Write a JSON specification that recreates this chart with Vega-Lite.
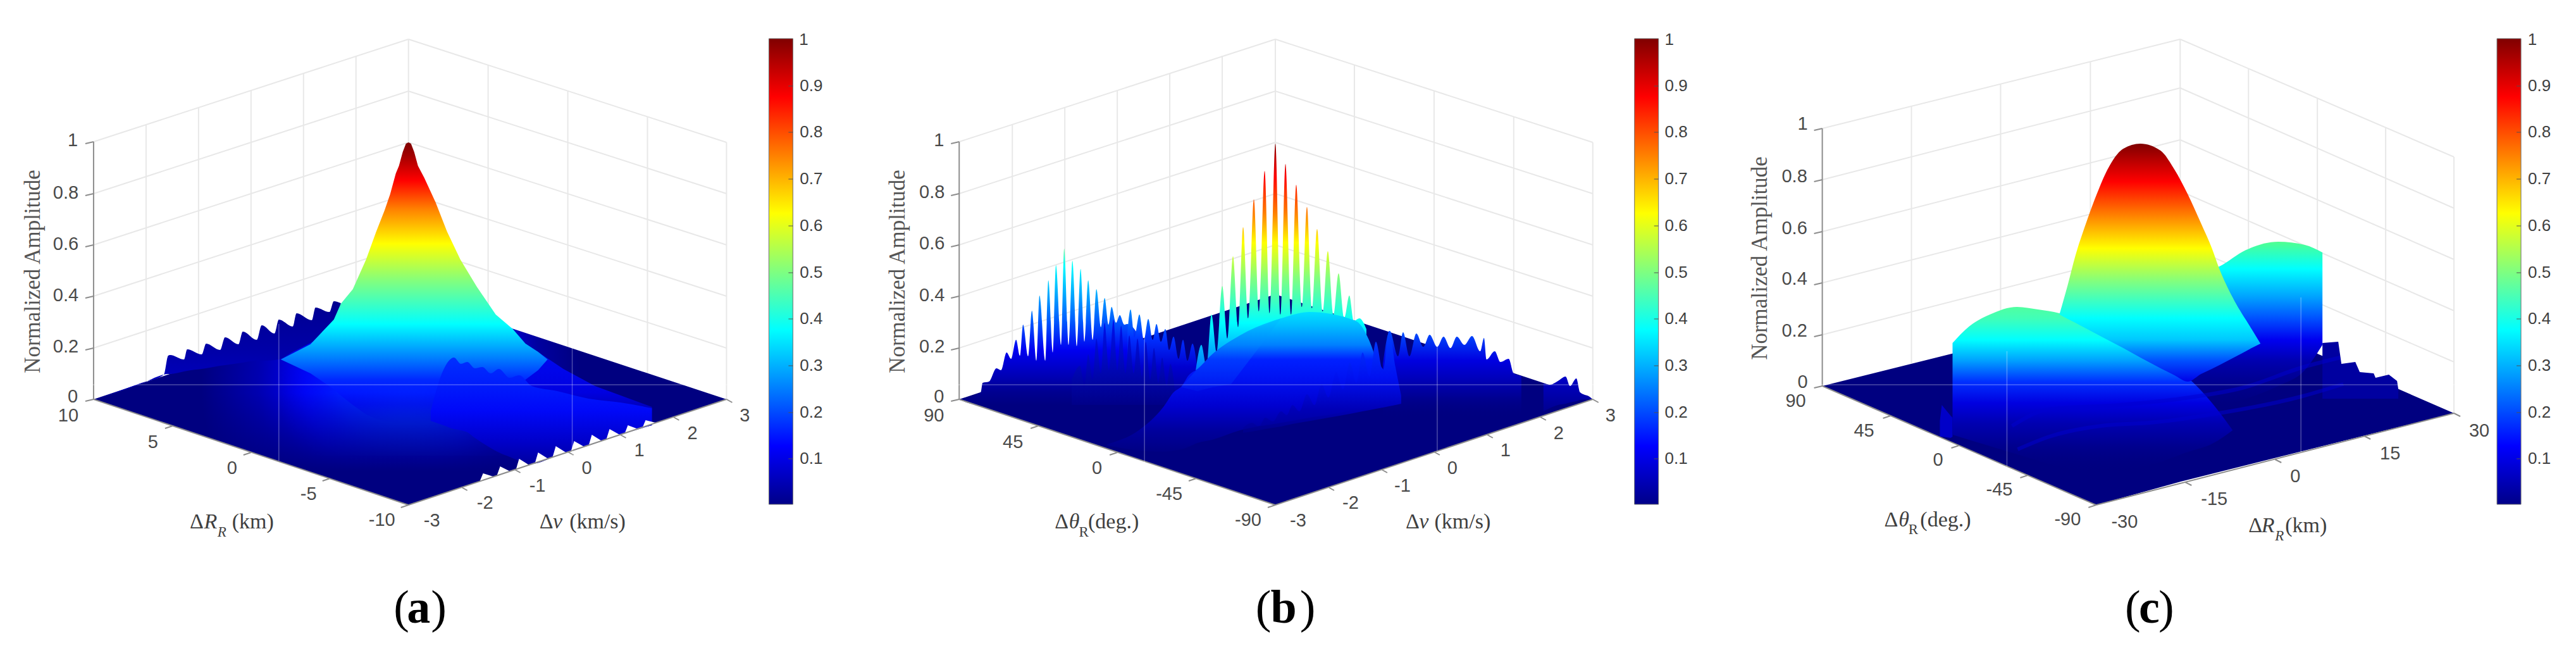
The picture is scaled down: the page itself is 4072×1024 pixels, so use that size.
{
"$schema":"https://vega.github.io/schema/vega-lite/v6.json",
"autosize":{"type":"fit","contains":"padding"},
"width":4072,"height":1024,"padding":0,"background":"white",
"config":{"view":{"stroke":null}},
"datasets":{
"grid":[
{"x":147,"y":550,"x2":645,"y2":387},{"x":147,"y":468,"x2":645,"y2":306},{"x":147,"y":387,"x2":645,"y2":225},{"x":147,"y":306,"x2":645,"y2":144},{"x":147,"y":224,"x2":645,"y2":62},
{"x":645,"y":387,"x2":1148,"y2":550},{"x":645,"y":306,"x2":1148,"y2":468},{"x":645,"y":225,"x2":1148,"y2":387},{"x":645,"y":144,"x2":1148,"y2":306},{"x":645,"y":62,"x2":1148,"y2":225},
{"x":645,"y":62,"x2":645,"y2":468},
{"x":230,"y":197,"x2":230,"y2":604},{"x":313,"y":170,"x2":313,"y2":577},{"x":396,"y":143,"x2":396,"y2":550},{"x":479,"y":116,"x2":479,"y2":523},{"x":562,"y":88,"x2":562,"y2":495},
{"x":771,"y":103,"x2":771,"y2":509},{"x":897,"y":143,"x2":897,"y2":549},{"x":1023,"y":184,"x2":1023,"y2":590},{"x":1148,"y":225,"x2":1148,"y2":631},
{"x":1516,"y":550,"x2":2016,"y2":387},{"x":1516,"y":468,"x2":2016,"y2":306},{"x":1516,"y":387,"x2":2016,"y2":225},{"x":1516,"y":306,"x2":2016,"y2":144},{"x":1516,"y":224,"x2":2016,"y2":62},
{"x":2016,"y":387,"x2":2518,"y2":550},{"x":2016,"y":306,"x2":2518,"y2":468},{"x":2016,"y":225,"x2":2518,"y2":387},{"x":2016,"y":144,"x2":2518,"y2":306},{"x":2016,"y":62,"x2":2518,"y2":225},
{"x":2016,"y":62,"x2":2016,"y2":468},
{"x":1600,"y":197,"x2":1600,"y2":604},{"x":1683,"y":170,"x2":1683,"y2":577},{"x":1766,"y":143,"x2":1766,"y2":550},{"x":1849,"y":116,"x2":1849,"y2":523},{"x":1932,"y":88,"x2":1932,"y2":495},
{"x":2141,"y":103,"x2":2141,"y2":509},{"x":2267,"y":143,"x2":2267,"y2":549},{"x":2393,"y":184,"x2":2393,"y2":590},{"x":2518,"y":225,"x2":2518,"y2":631},
{"x":2881,"y":529,"x2":3447,"y2":384},{"x":2881,"y":447,"x2":3447,"y2":302},{"x":2881,"y":366,"x2":3447,"y2":221},{"x":2881,"y":284,"x2":3447,"y2":139},{"x":2881,"y":203,"x2":3447,"y2":62},
{"x":3447,"y":384,"x2":3880,"y2":572},{"x":3447,"y":302,"x2":3880,"y2":491},{"x":3447,"y":221,"x2":3880,"y2":410},{"x":3447,"y":139,"x2":3880,"y2":329},{"x":3447,"y":62,"x2":3880,"y2":248},
{"x":3447,"y":62,"x2":3447,"y2":465},
{"x":3022,"y":168,"x2":3022,"y2":574},{"x":3163,"y":132,"x2":3163,"y2":538},{"x":3305,"y":97,"x2":3305,"y2":501},
{"x":3555,"y":108,"x2":3555,"y2":512},{"x":3664,"y":155,"x2":3664,"y2":559},{"x":3772,"y":202,"x2":3772,"y2":606},{"x":3880,"y":248,"x2":3880,"y2":653}
],
"axes":[
{"x":147,"y":224,"x2":147,"y2":631},{"x":147,"y":224,"x2":134,"y2":227},{"x":147,"y":306,"x2":134,"y2":309},{"x":147,"y":387,"x2":134,"y2":390},{"x":147,"y":468,"x2":134,"y2":471},{"x":147,"y":550,"x2":134,"y2":553},{"x":147,"y":631,"x2":134,"y2":634},
{"x":147,"y":631,"x2":645,"y2":798},{"x":272,"y":673,"x2":260,"y2":677},{"x":396,"y":715,"x2":384,"y2":719},{"x":521,"y":756,"x2":509,"y2":760},{"x":645,"y":798,"x2":633,"y2":802},
{"x":645,"y":798,"x2":1148,"y2":631},{"x":729,"y":770,"x2":738,"y2":775},{"x":813,"y":742,"x2":822,"y2":747},{"x":897,"y":714,"x2":906,"y2":719},{"x":980,"y":687,"x2":989,"y2":692},{"x":1064,"y":659,"x2":1073,"y2":664},{"x":1148,"y":631,"x2":1157,"y2":636},
{"x":1516,"y":224,"x2":1516,"y2":631},{"x":1516,"y":224,"x2":1503,"y2":227},{"x":1516,"y":306,"x2":1503,"y2":309},{"x":1516,"y":387,"x2":1503,"y2":390},{"x":1516,"y":468,"x2":1503,"y2":471},{"x":1516,"y":550,"x2":1503,"y2":553},{"x":1516,"y":631,"x2":1503,"y2":634},
{"x":1516,"y":631,"x2":2016,"y2":798},{"x":1641,"y":673,"x2":1629,"y2":677},{"x":1766,"y":715,"x2":1754,"y2":719},{"x":1891,"y":756,"x2":1879,"y2":760},{"x":2016,"y":798,"x2":2004,"y2":802},
{"x":2016,"y":798,"x2":2518,"y2":631},{"x":2100,"y":770,"x2":2109,"y2":775},{"x":2184,"y":742,"x2":2193,"y2":747},{"x":2267,"y":714,"x2":2276,"y2":719},{"x":2351,"y":687,"x2":2360,"y2":692},{"x":2435,"y":659,"x2":2444,"y2":664},{"x":2518,"y":631,"x2":2527,"y2":636},
{"x":2881,"y":203,"x2":2881,"y2":610},{"x":2881,"y":203,"x2":2868,"y2":206},{"x":2881,"y":284,"x2":2868,"y2":287},{"x":2881,"y":366,"x2":2868,"y2":369},{"x":2881,"y":447,"x2":2868,"y2":450},{"x":2881,"y":529,"x2":2868,"y2":532},{"x":2881,"y":610,"x2":2868,"y2":613},
{"x":2881,"y":610,"x2":3314,"y2":798},{"x":2989,"y":657,"x2":2977,"y2":661},{"x":3097,"y":704,"x2":3085,"y2":708},{"x":3206,"y":751,"x2":3194,"y2":755},{"x":3314,"y":798,"x2":3302,"y2":802},
{"x":3314,"y":798,"x2":3880,"y2":653},{"x":3455,"y":762,"x2":3465,"y2":767},{"x":3597,"y":726,"x2":3607,"y2":731},{"x":3738,"y":689,"x2":3748,"y2":694},{"x":3880,"y":653,"x2":3890,"y2":658}
],
"overlay":[
{"x":0,"y":608,"x2":4072,"y2":608},
{"x":440,"y":512,"x2":440,"y2":728},{"x":904,"y":549,"x2":904,"y2":719},
{"x":1809,"y":530,"x2":1809,"y2":745},{"x":2272,"y":530,"x2":2272,"y2":712},
{"x":3173,"y":555,"x2":3173,"y2":738},{"x":3638,"y":470,"x2":3638,"y2":715}
],
"a_floor":[{"x":147,"y":631,"y2":631},{"x":645,"y":465,"y2":798},{"x":1148,"y":631,"y2":631}],
"a_glow":[{"x":400,"y":550,"y2":720},{"x":500,"y":520,"y2":720},{"x":645,"y":470,"y2":720},{"x":800,"y":517,"y2":720},{"x":900,"y":550,"y2":720}],
"a_front":[{"x":147,"y":631,"y2":631},{"x":180,"y":620,"y2":642},{"x":645,"y":620,"y2":798},{"x":1115,"y":620,"y2":642},{"x":1148,"y":631,"y2":631}],
"a_comb":[{"x":147,"y":632,"y2":632},{"x":223,"y":605,"y2":606},{"x":258,"y":592,"y2":592},{"x":265,"y":562,"y2":591},{"x":268,"y":561,"y2":591},{"x":290,"y":568,"y2":587},{"x":295,"y":552,"y2":586},{"x":318,"y":560,"y2":583},{"x":325,"y":543,"y2":582},{"x":347,"y":553,"y2":578},{"x":355,"y":533,"y2":577},{"x":376,"y":544,"y2":574},{"x":383,"y":524,"y2":573},{"x":405,"y":537,"y2":570},{"x":413,"y":514,"y2":570},{"x":433,"y":527,"y2":569},{"x":440,"y":505,"y2":568},{"x":462,"y":516,"y2":556},{"x":468,"y":495,"y2":553},{"x":492,"y":506,"y2":541},{"x":498,"y":486,"y2":538},{"x":520,"y":493,"y2":525},{"x":527,"y":476,"y2":521},{"x":538,"y":479,"y2":510}],
"a_tail":[{"x":790,"y":510,"y2":640},{"x":810,"y":520,"y2":650},{"x":830,"y":543,"y2":660},{"x":890,"y":583,"y2":690},{"x":940,"y":610,"y2":695},{"x":1030,"y":643,"y2":672}],
"a_body":[{"x":443,"y":568,"y2":568},{"x":490,"y":544,"y2":590},{"x":527,"y":505,"y2":615},{"x":538,"y":480,"y2":625},{"x":557,"y":457,"y2":640},{"x":578,"y":410,"y2":655},{"x":594,"y":366,"y2":662},{"x":607,"y":333,"y2":666},{"x":616,"y":307,"y2":667},{"x":625,"y":274,"y2":668},{"x":630,"y":262,"y2":668},{"x":636,"y":240,"y2":669},{"x":641,"y":227,"y2":670},{"x":645,"y":225,"y2":670},{"x":649,"y":227,"y2":670},{"x":654,"y":240,"y2":669},{"x":660,"y":262,"y2":668},{"x":670,"y":281,"y2":668},{"x":688,"y":320,"y2":664},{"x":706,"y":366,"y2":660},{"x":727,"y":410,"y2":653},{"x":753,"y":453,"y2":645},{"x":783,"y":497,"y2":630},{"x":810,"y":520,"y2":615},{"x":830,"y":543,"y2":600},{"x":850,"y":556,"y2":585},{"x":865,"y":568,"y2":568}],
"a_lobes":[{"x":680,"y":650,"y2":665},{"x":700,"y":585,"y2":672},{"x":717,"y":565,"y2":678},{"x":728,"y":575,"y2":680},{"x":738,"y":572,"y2":683},{"x":750,"y":582,"y2":692},{"x":762,"y":580,"y2":700},{"x":775,"y":590,"y2":708},{"x":788,"y":583,"y2":715},{"x":805,"y":597,"y2":722},{"x":820,"y":593,"y2":728},{"x":840,"y":610,"y2":733},{"x":880,"y":618,"y2":720},{"x":930,"y":630,"y2":704},{"x":980,"y":636,"y2":687},{"x":1030,"y":645,"y2":672}],
"a_teeth":[{"x":758,"y":760,"y2":760},{"x":763,"y":748,"y2":759},{"x":779,"y":753,"y2":753},{"x":785,"y":751,"y2":751},{"x":790,"y":737,"y2":750},{"x":806,"y":745,"y2":745},{"x":815,"y":742,"y2":742},{"x":820,"y":725,"y2":740},{"x":836,"y":735,"y2":735},{"x":845,"y":732,"y2":732},{"x":850,"y":715,"y2":730},{"x":866,"y":725,"y2":725},{"x":873,"y":722,"y2":722},{"x":878,"y":705,"y2":721},{"x":894,"y":715,"y2":715},{"x":902,"y":713,"y2":713},{"x":907,"y":697,"y2":711},{"x":923,"y":706,"y2":706},{"x":930,"y":704,"y2":704},{"x":935,"y":687,"y2":702},{"x":951,"y":697,"y2":697},{"x":958,"y":694,"y2":694},{"x":963,"y":678,"y2":693},{"x":979,"y":687,"y2":687},{"x":987,"y":685,"y2":685},{"x":992,"y":672,"y2":683},{"x":1008,"y":678,"y2":678},{"x":1015,"y":676,"y2":676},{"x":1020,"y":664,"y2":674},{"x":1036,"y":668,"y2":668}],
"b_floor":[{"x":1516,"y":631,"y2":631},{"x":2016,"y":465,"y2":798},{"x":2518,"y":631,"y2":631}],
"b_combL":[{"x":1517,"y":632,"y2":632},{"x":1550,"y":620,"y2":640},{"x":1553,"y":605,"y2":640},{"x":1563,"y":603,"y2":640},{"x":1575,"y":582,"y2":640},{"x":1582,"y":585,"y2":640},{"x":1591,"y":557,"y2":640},{"x":1598,"y":567,"y2":640},{"x":1606,"y":537,"y2":640},{"x":1612,"y":562,"y2":640},{"x":1617,"y":513,"y2":640},{"x":1625,"y":563,"y2":640},{"x":1631,"y":491,"y2":640},{"x":1638,"y":570,"y2":640},{"x":1643,"y":467,"y2":640},{"x":1652,"y":570,"y2":640},{"x":1657,"y":443,"y2":640},{"x":1664,"y":557,"y2":640},{"x":1669,"y":419,"y2":640},{"x":1677,"y":545,"y2":640},{"x":1682,"y":393,"y2":640},{"x":1689,"y":545,"y2":640},{"x":1695,"y":412,"y2":640},{"x":1702,"y":547,"y2":640},{"x":1708,"y":425,"y2":640},{"x":1714,"y":540,"y2":640},{"x":1720,"y":443,"y2":640},{"x":1727,"y":537,"y2":640},{"x":1733,"y":457,"y2":640},{"x":1740,"y":517,"y2":640},{"x":1746,"y":471,"y2":640},{"x":1752,"y":513,"y2":640},{"x":1757,"y":485,"y2":640},{"x":1764,"y":510,"y2":640},{"x":1770,"y":498,"y2":640},{"x":1777,"y":513,"y2":640},{"x":1782,"y":512,"y2":640},{"x":1803,"y":535,"y2":640}],
"b_combL2":[{"x":1782,"y":525,"y2":640},{"x":1787,"y":489,"y2":640},{"x":1793,"y":533,"y2":640},{"x":1801,"y":497,"y2":640},{"x":1808,"y":537,"y2":640},{"x":1815,"y":504,"y2":640},{"x":1822,"y":537,"y2":640},{"x":1828,"y":512,"y2":640},{"x":1835,"y":540,"y2":640},{"x":1842,"y":520,"y2":640},{"x":1848,"y":553,"y2":640},{"x":1855,"y":532,"y2":640},{"x":1863,"y":567,"y2":640},{"x":1870,"y":537,"y2":640},{"x":1877,"y":570,"y2":640},{"x":1885,"y":543,"y2":640},{"x":1892,"y":577,"y2":640}],
"b_tex":[{"x":1694,"y":600,"y2":640},{"x":1707,"y":578,"y2":640},{"x":1714,"y":610,"y2":640},{"x":1720,"y":560,"y2":640},{"x":1727,"y":600,"y2":640},{"x":1733,"y":535,"y2":640},{"x":1740,"y":590,"y2":640},{"x":1746,"y":510,"y2":640},{"x":1753,"y":585,"y2":640},{"x":1760,"y":505,"y2":640},{"x":1766,"y":585,"y2":640},{"x":1772,"y":515,"y2":640},{"x":1779,"y":590,"y2":640},{"x":1785,"y":530,"y2":640},{"x":1792,"y":590,"y2":640},{"x":1798,"y":535,"y2":640},{"x":1805,"y":595,"y2":640},{"x":1811,"y":540,"y2":640},{"x":1818,"y":600,"y2":640},{"x":1824,"y":550,"y2":640},{"x":1831,"y":605,"y2":640},{"x":1837,"y":565,"y2":640},{"x":1844,"y":610,"y2":640},{"x":1850,"y":575,"y2":640},{"x":1857,"y":615,"y2":640}],
"b_center":[{"x":1890,"y":585,"y2":600},{"x":1899,"y":545,"y2":600},{"x":1907,"y":578,"y2":600},{"x":1915,"y":497,"y2":600},{"x":1923,"y":557,"y2":600},{"x":1932,"y":452,"y2":600},{"x":1940,"y":535,"y2":600},{"x":1949,"y":405,"y2":600},{"x":1957,"y":517,"y2":600},{"x":1965,"y":359,"y2":600},{"x":1973,"y":503,"y2":600},{"x":1982,"y":315,"y2":600},{"x":1990,"y":492,"y2":600},{"x":1999,"y":270,"y2":600},{"x":2007,"y":495,"y2":600},{"x":2016,"y":227,"y2":600},{"x":2024,"y":497,"y2":600},{"x":2032,"y":259,"y2":600},{"x":2041,"y":497,"y2":600},{"x":2049,"y":292,"y2":600},{"x":2058,"y":485,"y2":600},{"x":2066,"y":327,"y2":600},{"x":2074,"y":487,"y2":600},{"x":2082,"y":362,"y2":600},{"x":2091,"y":492,"y2":600},{"x":2099,"y":397,"y2":600},{"x":2108,"y":497,"y2":600},{"x":2116,"y":432,"y2":600},{"x":2125,"y":502,"y2":600},{"x":2133,"y":467,"y2":600},{"x":2140,"y":507,"y2":600},{"x":2149,"y":503,"y2":600},{"x":2160,"y":520,"y2":600}],
"b_lit":[{"x":1750,"y":702,"y2":704},{"x":1800,"y":680,"y2":712},{"x":1839,"y":643,"y2":714},{"x":1855,"y":620,"y2":712},{"x":1868,"y":610,"y2":710},{"x":1879,"y":593,"y2":706},{"x":1893,"y":583,"y2":700},{"x":1916,"y":560,"y2":695},{"x":1960,"y":530,"y2":680},{"x":2025,"y":503,"y2":668},{"x":2070,"y":493,"y2":660},{"x":2143,"y":507,"y2":645},{"x":2164,"y":537,"y2":630},{"x":2175,"y":565,"y2":612},{"x":2190,"y":588,"y2":588}],
"b_crease":[{"x":1868,"y":610,"y2":612},{"x":1893,"y":583,"y2":618},{"x":1916,"y":560,"y2":612},{"x":1946,"y":538,"y2":607},{"x":1985,"y":520,"y2":556},{"x":2025,"y":503,"y2":503}],
"b_combBR":[{"x":2186,"y":575,"y2":660},{"x":2197,"y":523,"y2":660},{"x":2210,"y":563,"y2":660},{"x":2218,"y":525,"y2":660},{"x":2228,"y":563,"y2":660},{"x":2239,"y":527,"y2":660},{"x":2250,"y":548,"y2":660},{"x":2260,"y":529,"y2":660},{"x":2272,"y":548,"y2":660},{"x":2282,"y":532,"y2":660},{"x":2293,"y":550,"y2":660},{"x":2303,"y":532,"y2":660},{"x":2315,"y":545,"y2":660},{"x":2327,"y":531,"y2":660},{"x":2340,"y":555,"y2":660},{"x":2346,"y":534,"y2":660},{"x":2350,"y":568,"y2":660},{"x":2363,"y":555,"y2":660},{"x":2372,"y":572,"y2":660},{"x":2385,"y":567,"y2":660},{"x":2393,"y":590,"y2":660},{"x":2405,"y":594,"y2":660}],
"b_front":[{"x":1965,"y":676,"y2":684},{"x":1979,"y":668,"y2":682},{"x":1990,"y":674,"y2":680},{"x":2000,"y":660,"y2":678},{"x":2012,"y":666,"y2":676},{"x":2025,"y":650,"y2":674},{"x":2034,"y":656,"y2":672},{"x":2043,"y":640,"y2":670},{"x":2054,"y":650,"y2":668},{"x":2066,"y":623,"y2":666},{"x":2078,"y":640,"y2":664},{"x":2089,"y":607,"y2":662},{"x":2100,"y":628,"y2":660},{"x":2112,"y":588,"y2":658},{"x":2123,"y":615,"y2":656},{"x":2134,"y":573,"y2":654},{"x":2144,"y":605,"y2":652},{"x":2154,"y":557,"y2":650},{"x":2165,"y":595,"y2":648},{"x":2175,"y":540,"y2":646},{"x":2186,"y":585,"y2":644},{"x":2196,"y":523,"y2":642},{"x":2206,"y":580,"y2":640},{"x":2215,"y":625,"y2":638}],
"b_tail":[{"x":2440,"y":606,"y2":650},{"x":2450,"y":608,"y2":645},{"x":2463,"y":602,"y2":640},{"x":2475,"y":595,"y2":638},{"x":2482,"y":610,"y2":636},{"x":2492,"y":598,"y2":634},{"x":2498,"y":620,"y2":632},{"x":2513,"y":627,"y2":631},{"x":2518,"y":631,"y2":631}],
"c_floor":[{"x":2881,"y":610,"y2":610},{"x":3314,"y":502,"y2":798},{"x":3448,"y":465,"y2":761},{"x":3880,"y":653,"y2":653}],
"c_back":[{"x":3672,"y":542,"y2":630},{"x":3697,"y":540,"y2":630},{"x":3702,"y":575,"y2":630},{"x":3724,"y":572,"y2":630},{"x":3731,"y":588,"y2":630},{"x":3753,"y":590,"y2":630},{"x":3756,"y":597,"y2":630},{"x":3777,"y":592,"y2":630},{"x":3790,"y":602,"y2":630},{"x":3792,"y":615,"y2":630}],
"c_nub":[{"x":3067,"y":665,"y2":690},{"x":3070,"y":640,"y2":690},{"x":3084,"y":657,"y2":692},{"x":3087,"y":660,"y2":690}],
"c_left":[{"x":3087,"y":542,"y2":687},{"x":3113,"y":516,"y2":695},{"x":3146,"y":497,"y2":705},{"x":3189,"y":485,"y2":718},{"x":3222,"y":489,"y2":728},{"x":3256,"y":495,"y2":738},{"x":3320,"y":520,"y2":745},{"x":3400,"y":560,"y2":735},{"x":3457,"y":595,"y2":715},{"x":3500,"y":640,"y2":700},{"x":3530,"y":680,"y2":680}],
"c_right":[{"x":3440,"y":440,"y2":640},{"x":3509,"y":421,"y2":640},{"x":3551,"y":395,"y2":630},{"x":3602,"y":382,"y2":610},{"x":3644,"y":387,"y2":585},{"x":3672,"y":399,"y2":545}],
"c_main":[{"x":3256,"y":497,"y2":497},{"x":3269,"y":451,"y2":504},{"x":3281,"y":405,"y2":510},{"x":3298,"y":353,"y2":519},{"x":3315,"y":307,"y2":528},{"x":3332,"y":268,"y2":537},{"x":3357,"y":235,"y2":550},{"x":3384,"y":227,"y2":565},{"x":3416,"y":238,"y2":582},{"x":3438,"y":268,"y2":593},{"x":3459,"y":307,"y2":603},{"x":3480,"y":353,"y2":591},{"x":3497,"y":392,"y2":583},{"x":3509,"y":425,"y2":577},{"x":3530,"y":470,"y2":566},{"x":3560,"y":520,"y2":550},{"x":3574,"y":543,"y2":543}],
"c_streak":[{"x":3181,"y":673,"g":"p"},{"x":3239,"y":647,"g":"p"},{"x":3351,"y":640,"g":"p"},{"x":3448,"y":630,"g":"p"},{"x":3545,"y":613,"g":"p"},{"x":3642,"y":580,"g":"p"},{"x":3700,"y":565,"g":"p"},{"x":3190,"y":710,"g":"q"},{"x":3240,"y":690,"g":"q"},{"x":3330,"y":672,"g":"q"},{"x":3399,"y":668,"g":"q"},{"x":3496,"y":655,"g":"q"},{"x":3637,"y":627,"g":"q"},{"x":3705,"y":607,"g":"q"}],
"bars":[{"x":1215,"x2":1253,"y":61,"y2":797},{"x":2584,"x2":2622,"y":61,"y2":797},{"x":3948,"x2":3986,"y":61,"y2":797}],
"bar_ticks":[
{"x":1246,"x2":1253,"y":136,"y2":136},{"x":1246,"x2":1253,"y":209,"y2":209},{"x":1246,"x2":1253,"y":283,"y2":283},{"x":1246,"x2":1253,"y":357,"y2":357},{"x":1246,"x2":1253,"y":431,"y2":431},{"x":1246,"x2":1253,"y":504,"y2":504},{"x":1246,"x2":1253,"y":578,"y2":578},{"x":1246,"x2":1253,"y":652,"y2":652},{"x":1246,"x2":1253,"y":725,"y2":725},
{"x":2615,"x2":2622,"y":136,"y2":136},{"x":2615,"x2":2622,"y":209,"y2":209},{"x":2615,"x2":2622,"y":283,"y2":283},{"x":2615,"x2":2622,"y":357,"y2":357},{"x":2615,"x2":2622,"y":431,"y2":431},{"x":2615,"x2":2622,"y":504,"y2":504},{"x":2615,"x2":2622,"y":578,"y2":578},{"x":2615,"x2":2622,"y":652,"y2":652},{"x":2615,"x2":2622,"y":725,"y2":725},
{"x":3979,"x2":3986,"y":136,"y2":136},{"x":3979,"x2":3986,"y":209,"y2":209},{"x":3979,"x2":3986,"y":283,"y2":283},{"x":3979,"x2":3986,"y":357,"y2":357},{"x":3979,"x2":3986,"y":431,"y2":431},{"x":3979,"x2":3986,"y":504,"y2":504},{"x":3979,"x2":3986,"y":578,"y2":578},{"x":3979,"x2":3986,"y":652,"y2":652},{"x":3979,"x2":3986,"y":725,"y2":725}
],
"bar_labels":[
{"t":"1","x":1270,"y":63},{"t":"0.9","x":1282,"y":136},{"t":"0.8","x":1282,"y":209},{"t":"0.7","x":1282,"y":283},{"t":"0.6","x":1282,"y":357},{"t":"0.5","x":1282,"y":431},{"t":"0.4","x":1282,"y":504},{"t":"0.3","x":1282,"y":578},{"t":"0.2","x":1282,"y":652},{"t":"0.1","x":1282,"y":725},
{"t":"1","x":2639,"y":63},{"t":"0.9","x":2650,"y":136},{"t":"0.8","x":2650,"y":209},{"t":"0.7","x":2650,"y":283},{"t":"0.6","x":2650,"y":357},{"t":"0.5","x":2650,"y":431},{"t":"0.4","x":2650,"y":504},{"t":"0.3","x":2650,"y":578},{"t":"0.2","x":2650,"y":652},{"t":"0.1","x":2650,"y":725},
{"t":"1","x":4004,"y":63},{"t":"0.9","x":4015,"y":136},{"t":"0.8","x":4015,"y":209},{"t":"0.7","x":4015,"y":283},{"t":"0.6","x":4015,"y":357},{"t":"0.5","x":4015,"y":431},{"t":"0.4","x":4015,"y":504},{"t":"0.3","x":4015,"y":578},{"t":"0.2","x":4015,"y":652},{"t":"0.1","x":4015,"y":725}
],
"tick_labels":[
{"t":"1","x":114,"y":222},{"t":"0.8","x":103,"y":305},{"t":"0.6","x":103,"y":386},{"t":"0.4","x":103,"y":467},{"t":"0.2","x":103,"y":548},{"t":"0","x":114,"y":627},
{"t":"10","x":107,"y":657},{"t":"5","x":241,"y":699},{"t":"0","x":366,"y":740},{"t":"-5","x":487,"y":781},{"t":"-10","x":603,"y":822},
{"t":"-3","x":682,"y":823},{"t":"-2","x":766,"y":795},{"t":"-1","x":849,"y":768},{"t":"0","x":927,"y":740},{"t":"1","x":1010,"y":712},{"t":"2","x":1094,"y":685},{"t":"3","x":1177,"y":657},
{"t":"1","x":1484,"y":222},{"t":"0.8","x":1473,"y":304},{"t":"0.6","x":1473,"y":385},{"t":"0.4","x":1473,"y":467},{"t":"0.2","x":1473,"y":548},{"t":"0","x":1484,"y":627},
{"t":"90","x":1476,"y":657},{"t":"45","x":1601,"y":699},{"t":"0","x":1734,"y":740},{"t":"-45","x":1848,"y":781},{"t":"-90","x":1973,"y":822},
{"t":"-3","x":2052,"y":823},{"t":"-2","x":2135,"y":795},{"t":"-1","x":2217,"y":768},{"t":"0","x":2296,"y":740},{"t":"1","x":2380,"y":712},{"t":"2","x":2464,"y":685},{"t":"3","x":2546,"y":657},
{"t":"1","x":2850,"y":196},{"t":"0.8","x":2837,"y":279},{"t":"0.6","x":2837,"y":361},{"t":"0.4","x":2837,"y":441},{"t":"0.2","x":2837,"y":523},{"t":"0","x":2850,"y":604},
{"t":"90","x":2839,"y":634},{"t":"45","x":2947,"y":681},{"t":"0","x":3064,"y":727},{"t":"-45","x":3161,"y":774},{"t":"-90","x":3269,"y":821},
{"t":"-30","x":3359,"y":825},{"t":"-15","x":3501,"y":789},{"t":"0","x":3629,"y":753},{"t":"15","x":3779,"y":717},{"t":"30","x":3920,"y":681}
],
"z_titles":[{"t":"Normalized Amplitude","x":51,"y":429},{"t":"Normalized Amplitude","x":1419,"y":429},{"t":"Normalized Amplitude","x":2782,"y":408}],
"serif":[
{"t":"Δ","x":310,"y":825},{"t":"(km)","x":399,"y":825},{"t":"Δ","x":863,"y":825},{"t":"(km/s)","x":944,"y":825},
{"t":"Δ","x":1678,"y":825},{"t":"(deg.)","x":1760,"y":825},{"t":"Δ","x":2233,"y":825},{"t":"(km/s)","x":2312,"y":825},
{"t":"Δ","x":2990,"y":822},{"t":"(deg.)","x":3076,"y":822},{"t":"Δ","x":3566,"y":831},{"t":"(km)","x":3646,"y":831}
],
"serif_italic":[
{"t":"R","x":332,"y":825},{"t":"v","x":881,"y":825},{"t":"θ","x":1698,"y":825},{"t":"v","x":2251,"y":825},{"t":"θ","x":3010,"y":822},{"t":"R","x":3586,"y":831}
],
"sub_italic":[{"t":"R","x":350,"y":841},{"t":"R","x":3604,"y":847}],
"sub_plain":[{"t":"R","x":1713,"y":841},{"t":"R","x":3025,"y":837}],
"paren":[{"t":"(","x":634,"y":984},{"t":")","x":693,"y":984},{"t":"(","x":1997,"y":984},{"t":")","x":2067,"y":984},{"t":"(","x":3372,"y":984},{"t":")","x":3425,"y":984}],
"letters":[{"t":"a","x":661,"y":984},{"t":"b","x":2029,"y":984},{"t":"c","x":3398,"y":984}]
},
"encoding":{
"x":{"field":"x","type":"quantitative","axis":null,"scale":{"domain":[0,4072],"nice":false,"zero":false}},
"y":{"field":"y","type":"quantitative","axis":null,"scale":{"domain":[1024,0],"nice":false,"zero":false}}
},
"layer":[
{"data":{"name":"grid"},"mark":{"type":"rule","color":"#e8e8e8","strokeWidth":2},"encoding":{"x2":{"field":"x2"},"y2":{"field":"y2"}}},

{"data":{"name":"a_floor"},"mark":{"type":"area","color":{"gradient":"radial","x1":0.47,"y1":0.48,"r1":0,"x2":0.47,"y2":0.48,"r2":0.3,"stops":[{"offset":0,"color":"#0010ff"},{"offset":0.45,"color":"#0000f0"},{"offset":0.7,"color":"#0000b0"},{"offset":1,"color":"#000080"}]}},"encoding":{"y2":{"field":"y2"}}},
{"data":{"name":"a_glow"},"mark":{"type":"area","color":{"gradient":"radial","x1":0.49,"y1":0.5,"r1":0,"x2":0.49,"y2":0.5,"r2":0.42,"stops":[{"offset":0,"color":"rgba(0,70,255,1)"},{"offset":0.55,"color":"rgba(0,30,255,0.85)"},{"offset":1,"color":"rgba(0,0,255,0)"}]}},"encoding":{"y2":{"field":"y2"}}},
{"data":{"name":"a_comb"},"mark":{"type":"area","interpolate":"monotone","color":{"gradient":"linear","x1":0,"y1":0,"x2":0,"y2":1,"stops":[{"offset":0,"color":"#000090"},{"offset":0.5,"color":"#0000a8"},{"offset":1,"color":"#0000c8"}]}},"encoding":{"y2":{"field":"y2"}}},
{"data":{"name":"a_tail"},"mark":{"type":"area","color":{"gradient":"linear","x1":0,"y1":0,"x2":0,"y2":1,"stops":[{"offset":0,"color":"#0010ff"},{"offset":0.6,"color":"#0000e0"},{"offset":1,"color":"#0000a0"}]}},"encoding":{"y2":{"field":"y2"}}},
{"data":{"name":"a_body"},"mark":{"type":"area","color":{"gradient":"linear","x1":0,"y1":0,"x2":0,"y2":1,"stops":[{"offset":0,"color":"#7f0000"},{"offset":0.045,"color":"#a00000"},{"offset":0.135,"color":"#ff0000"},{"offset":0.236,"color":"#ff8000"},{"offset":0.36,"color":"#ffff00"},{"offset":0.494,"color":"#80ff80"},{"offset":0.645,"color":"#00ffff"},{"offset":0.764,"color":"#0080ff"},{"offset":0.843,"color":"#0028ff"},{"offset":0.933,"color":"rgba(0,0,255,0.5)"},{"offset":1,"color":"rgba(0,0,255,0)"}]}},"encoding":{"y2":{"field":"y2"}}},
{"data":{"name":"a_front"},"mark":{"type":"area","color":{"gradient":"linear","x1":0,"y1":0,"x2":0,"y2":1,"stops":[{"offset":0,"color":"rgba(0,0,128,0)"},{"offset":0.7,"color":"rgba(0,0,128,1)"},{"offset":1,"color":"rgba(0,0,128,1)"}]}},"encoding":{"y2":{"field":"y2"}}},
{"data":{"name":"a_lobes"},"mark":{"type":"area","interpolate":"monotone","color":{"gradient":"linear","x1":0,"y1":0,"x2":0,"y2":1,"stops":[{"offset":0,"color":"#0030ff"},{"offset":0.5,"color":"#0008f8"},{"offset":0.8,"color":"#0000c8"},{"offset":1,"color":"#0000a0"}]}},"encoding":{"y2":{"field":"y2"}}},
{"data":{"name":"a_teeth"},"mark":{"type":"area","color":"white"},"encoding":{"y2":{"field":"y2"}}},

{"data":{"name":"b_floor"},"mark":{"type":"area","color":"#000080"},"encoding":{"y2":{"field":"y2"}}},
{"data":{"name":"b_combL"},"mark":{"type":"area","interpolate":"monotone","color":{"gradient":"linear","x1":0,"y1":0,"x2":0,"y2":1,"stops":[{"offset":0,"color":"#60ffa0"},{"offset":0.11,"color":"#00ffff"},{"offset":0.31,"color":"#00a0ff"},{"offset":0.45,"color":"#0060ff"},{"offset":0.65,"color":"#0000f0"},{"offset":0.92,"color":"#000090"},{"offset":1,"color":"#000080"}]}},"encoding":{"y2":{"field":"y2"}}},
{"data":{"name":"b_combL2"},"mark":{"type":"area","interpolate":"monotone","color":{"gradient":"linear","x1":0,"y1":0,"x2":0,"y2":1,"stops":[{"offset":0,"color":"#0090ff"},{"offset":0.3,"color":"#0030ff"},{"offset":0.6,"color":"#0000d0"},{"offset":1,"color":"#000088"}]}},"encoding":{"y2":{"field":"y2"}}},
{"data":{"name":"b_tex"},"mark":{"type":"area","interpolate":"monotone","color":{"gradient":"linear","x1":0,"y1":0,"x2":0,"y2":1,"stops":[{"offset":0,"color":"#0010f0"},{"offset":1,"color":"#000088"}]}},"encoding":{"y2":{"field":"y2"}}},
{"data":{"name":"b_center"},"mark":{"type":"area","interpolate":"monotone","color":{"gradient":"linear","x1":0,"y1":0,"x2":0,"y2":1,"stops":[{"offset":0,"color":"#7f0000"},{"offset":0.06,"color":"#c00000"},{"offset":0.14,"color":"#ff0000"},{"offset":0.295,"color":"#ff8000"},{"offset":0.42,"color":"#ffff00"},{"offset":0.57,"color":"#80ff80"},{"offset":0.76,"color":"#00ffff"},{"offset":0.87,"color":"#00b0ff"},{"offset":1,"color":"#0060ff"}]}},"encoding":{"y2":{"field":"y2"}}},
{"data":{"name":"b_combBR"},"mark":{"type":"area","interpolate":"monotone","color":{"gradient":"linear","x1":0,"y1":0,"x2":0,"y2":1,"stops":[{"offset":0,"color":"#0050ff"},{"offset":0.34,"color":"#0000e0"},{"offset":0.78,"color":"#000090"},{"offset":1,"color":"rgba(0,0,128,0)"}]}},"encoding":{"y2":{"field":"y2"}}},
{"data":{"name":"b_lit"},"mark":{"type":"area","interpolate":"monotone","color":{"gradient":"linear","x1":0,"y1":0,"x2":0,"y2":1,"stops":[{"offset":0,"color":"#00e0ff"},{"offset":0.09,"color":"#00c0ff"},{"offset":0.235,"color":"#0080ff"},{"offset":0.34,"color":"#0020ff"},{"offset":0.49,"color":"#0010f0"},{"offset":0.67,"color":"#0000d0"},{"offset":0.85,"color":"#00009c"},{"offset":1,"color":"#000084"}]}},"encoding":{"y2":{"field":"y2"}}},
{"data":{"name":"b_crease"},"mark":{"type":"area","color":{"gradient":"linear","x1":0,"y1":0,"x2":0,"y2":1,"stops":[{"offset":0,"color":"rgba(0,190,255,0.35)"},{"offset":0.8,"color":"rgba(0,70,255,0.35)"},{"offset":1,"color":"rgba(0,70,255,0.15)"}]}},"encoding":{"y2":{"field":"y2"}}},
{"data":{"name":"b_front"},"mark":{"type":"area","interpolate":"monotone","color":{"gradient":"linear","x1":0,"y1":0,"x2":0,"y2":1,"stops":[{"offset":0,"color":"#0040ff"},{"offset":0.46,"color":"#0010f0"},{"offset":0.76,"color":"#0000b8"},{"offset":1,"color":"rgba(0,0,144,0.6)"}]}},"encoding":{"y2":{"field":"y2"}}},
{"data":{"name":"b_tail"},"mark":{"type":"area","interpolate":"monotone","color":{"gradient":"linear","x1":0,"y1":0,"x2":0,"y2":1,"stops":[{"offset":0,"color":"#0000c8"},{"offset":1,"color":"#000090"}]}},"encoding":{"y2":{"field":"y2"}}},

{"data":{"name":"c_floor"},"mark":{"type":"area","color":"#000080"},"encoding":{"y2":{"field":"y2"}}},
{"data":{"name":"c_back"},"mark":{"type":"area","color":"#0000a0"},"encoding":{"y2":{"field":"y2"}}},
{"data":{"name":"c_nub"},"mark":{"type":"area","color":"#0000c8"},"encoding":{"y2":{"field":"y2"}}},
{"data":{"name":"c_right"},"mark":{"type":"area","interpolate":"monotone","color":{"gradient":"linear","x1":0,"y1":0,"x2":0,"y2":1,"stops":[{"offset":0,"color":"#50ff90"},{"offset":0.167,"color":"#00ffff"},{"offset":0.341,"color":"#00a0ff"},{"offset":0.47,"color":"#0050ff"},{"offset":0.6,"color":"#0000f0"},{"offset":0.73,"color":"#0000b0"},{"offset":1,"color":"rgba(0,0,144,0)"}]}},"encoding":{"y2":{"field":"y2"}}},
{"data":{"name":"c_left"},"mark":{"type":"area","interpolate":"monotone","color":{"gradient":"linear","x1":0,"y1":0,"x2":0,"y2":1,"stops":[{"offset":0,"color":"#50ffa0"},{"offset":0.07,"color":"#40ffb8"},{"offset":0.2,"color":"#00ffff"},{"offset":0.327,"color":"#00a0ff"},{"offset":0.454,"color":"#0030ff"},{"offset":0.585,"color":"#0000e0"},{"offset":0.71,"color":"#0000b0"},{"offset":0.84,"color":"#000090"},{"offset":1,"color":"rgba(0,0,128,0)"}]}},"encoding":{"y2":{"field":"y2"}}},
{"data":{"name":"c_main"},"mark":{"type":"area","interpolate":"monotone","color":{"gradient":"linear","x1":0,"y1":0,"x2":0,"y2":1,"stops":[{"offset":0,"color":"#7f0000"},{"offset":0.06,"color":"#b00000"},{"offset":0.16,"color":"#ff0000"},{"offset":0.3,"color":"#ff8000"},{"offset":0.44,"color":"#ffff00"},{"offset":0.58,"color":"#80ff80"},{"offset":0.734,"color":"#00ffff"},{"offset":0.824,"color":"#00c8ff"},{"offset":0.912,"color":"#0050ff"},{"offset":1,"color":"#0000e8"}]}},"encoding":{"y2":{"field":"y2"}}},
{"data":{"name":"c_streak"},"mark":{"type":"line","interpolate":"monotone","color":"#0000d0","strokeWidth":6,"opacity":0.5},"encoding":{"detail":{"field":"g"}}},

{"data":{"name":"axes"},"mark":{"type":"rule","color":"#8c8c8c","strokeWidth":2},"encoding":{"x2":{"field":"x2"},"y2":{"field":"y2"}}},
{"data":{"name":"overlay"},"mark":{"type":"rule","color":"white","strokeWidth":1.5,"opacity":0.3},"encoding":{"x2":{"field":"x2"},"y2":{"field":"y2"}}},
{"data":{"name":"bars"},"mark":{"type":"rect","stroke":"#707070","strokeWidth":1,"color":{"gradient":"linear","x1":0,"y1":0,"x2":0,"y2":1,"stops":[{"offset":0,"color":"#800000"},{"offset":0.125,"color":"#ff0000"},{"offset":0.375,"color":"#ffff00"},{"offset":0.625,"color":"#00ffff"},{"offset":0.875,"color":"#0000ff"},{"offset":1,"color":"#000088"}]}},"encoding":{"x2":{"field":"x2"},"y2":{"field":"y2"}}},
{"data":{"name":"bar_ticks"},"mark":{"type":"rule","color":"#505050","strokeWidth":1},"encoding":{"x2":{"field":"x2"},"y2":{"field":"y2"}}},
{"data":{"name":"bar_labels"},"mark":{"type":"text","font":"Liberation Sans","fontSize":26,"color":"#404040"},"encoding":{"text":{"field":"t"}}},
{"data":{"name":"tick_labels"},"mark":{"type":"text","font":"Liberation Sans","fontSize":29,"color":"#4a4a4a"},"encoding":{"text":{"field":"t"}}},
{"data":{"name":"z_titles"},"mark":{"type":"text","font":"Liberation Serif","fontSize":35,"angle":270,"color":"#555555"},"encoding":{"text":{"field":"t"}}},
{"data":{"name":"serif"},"mark":{"type":"text","font":"Liberation Serif","fontSize":34,"color":"#404040"},"encoding":{"text":{"field":"t"}}},
{"data":{"name":"serif_italic"},"mark":{"type":"text","font":"Liberation Serif","fontSize":34,"fontStyle":"italic","color":"#404040"},"encoding":{"text":{"field":"t"}}},
{"data":{"name":"sub_italic"},"mark":{"type":"text","font":"Liberation Serif","fontSize":23,"fontStyle":"italic","color":"#404040"},"encoding":{"text":{"field":"t"}}},
{"data":{"name":"sub_plain"},"mark":{"type":"text","font":"Liberation Serif","fontSize":23,"color":"#404040"},"encoding":{"text":{"field":"t"}}},
{"data":{"name":"paren"},"mark":{"type":"text","font":"Liberation Serif","fontSize":74,"baseline":"alphabetic","color":"#000000"},"encoding":{"text":{"field":"t"}}},
{"data":{"name":"letters"},"mark":{"type":"text","font":"Liberation Serif","fontSize":74,"fontWeight":"bold","baseline":"alphabetic","color":"#000000"},"encoding":{"text":{"field":"t"}}}
]
}
